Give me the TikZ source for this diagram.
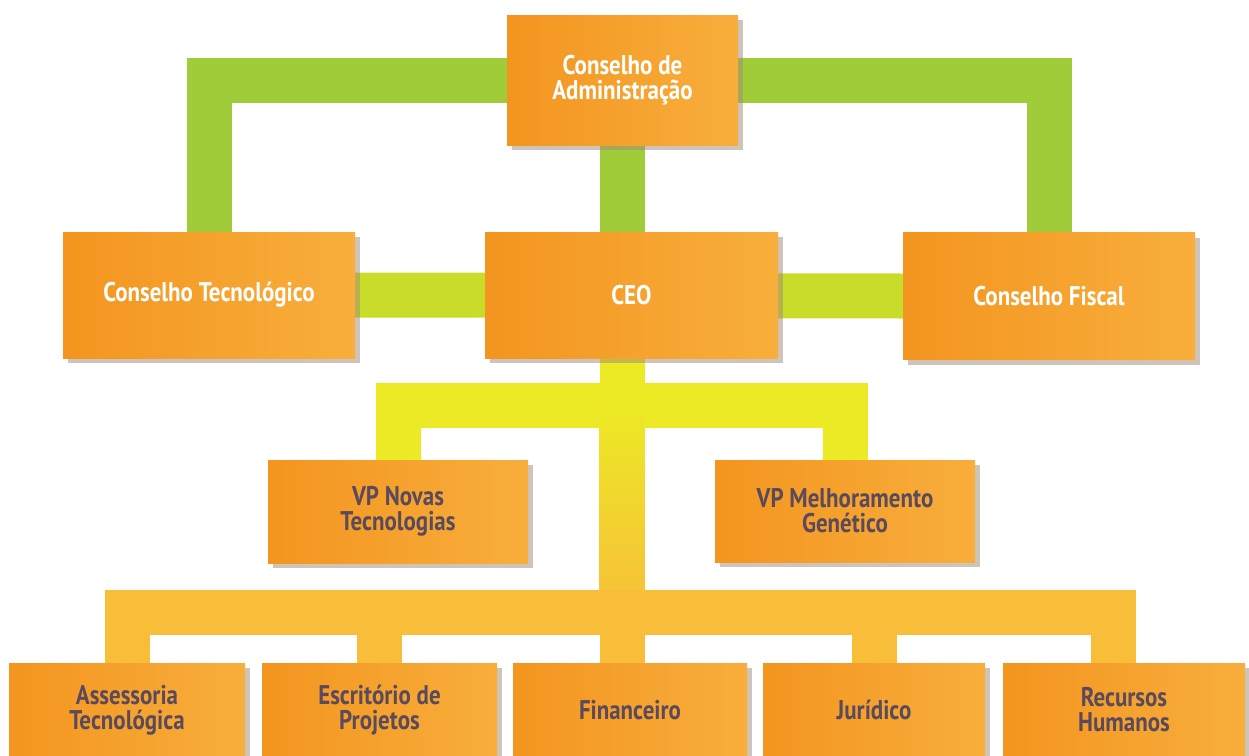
\documentclass[tikz,border=0pt]{standalone}
\usepackage{fontspec}
\newfontfamily\boxfont{PT Sans}[FakeStretch=0.85]
\usetikzlibrary{shadows}
\pgfdeclarelayer{bg}
\pgfsetlayers{bg,main}
\definecolor{boxL}{HTML}{F3951F}
\definecolor{boxR}{HTML}{F8AE3C}
\definecolor{shadowc}{HTML}{A08A76}
\definecolor{darktext}{HTML}{5A4A5C}
\definecolor{greenc}{HTML}{A0CC3A}
\definecolor{limec}{HTML}{CADC2A}
\definecolor{yellowc}{HTML}{ECEA24}
\definecolor{goldc}{HTML}{F8BE3A}
\tikzset{
  box/.style={rectangle, inner sep=0pt, left color=boxL, right color=boxR,
    drop shadow={shadow xshift=5pt, shadow yshift=-5pt, fill=shadowc, opacity=0.5},
    font=\boxfont\bfseries\fontsize{27}{25}\selectfont, align=center},
  toptext/.style={text=white},
  lowtext/.style={text=darktext},
  band/.style={line width=45pt, line join=miter, line cap=butt},
}
\begin{document}
\begin{tikzpicture}[x=1pt,y=-1pt]
\useasboundingbox (0,0) rectangle (1249,755);
% boxes
\node[box,toptext,minimum width=231pt,minimum height=130pt] (ca) at (622.5,80) {Conselho de\\Administração};
\node[box,toptext,minimum width=292pt,minimum height=126pt] (ct) at (209,295) {Conselho Tecnológico};
\node[box,toptext,minimum width=293pt,minimum height=126pt] (ceo) at (631.5,295) {CEO};
\node[box,toptext,minimum width=292pt,minimum height=127pt] (cf) at (1049,296) {Conselho Fiscal};
\node[box,lowtext,minimum width=260pt,minimum height=103pt] (vpn) at (398,511.5) {VP Novas\\Tecnologias};
\node[box,lowtext,minimum width=260pt,minimum height=102pt] (vpm) at (845,511) {VP Melhoramento\\Genético};
\node[box,lowtext,minimum width=236pt,minimum height=94pt] (ass) at (127,710) {Assessoria\\Tecnológica};
\node[box,lowtext,minimum width=235pt,minimum height=94pt] (esc) at (379.5,710) {Escritório de\\Projetos};
\node[box,lowtext,minimum width=234pt,minimum height=94pt] (fin) at (630,710) {Financeiro};
\node[box,lowtext,minimum width=222pt,minimum height=94pt] (jur) at (874,710) {Jurídico};
\node[box,lowtext,minimum width=242pt,minimum height=94pt] (rh) at (1124,710) {Recursos\\Humanos};
\coordinate (yj) at (622,405);
\coordinate (bj) at (622,612.5);
\coordinate (rhj) at (1113.5,663);
% connectors
\begin{pgfonlayer}{bg}
\draw[band,greenc] (ct.north) |- (ca.west);
\draw[band,greenc] (ca.east) -| (cf.north);
\draw[band,greenc] (ca.south) -- (ca.south |- ceo.north);
\draw[band,limec] (ct.east) -- (cf.west);
\draw[band,yellowc] (ceo.south -| yj) -- (yj);
\draw[band,yellowc] (vpn.north) |- (yj) -| (vpm.north);
\shade[top color=yellowc, bottom color=goldc] ([xshift=-22.5pt]yj) rectangle ([xshift=22.5pt]bj);
\draw[band,goldc] (ass.north) |- (bj) -| (rhj);
\draw[band,goldc] (esc.north) -- (esc.north |- bj);
\draw[band,goldc] (jur.north) -- (jur.north |- bj);
\draw[band,goldc] (bj) -- (bj |- fin.north);
\end{pgfonlayer}
\end{tikzpicture}
\end{document}
